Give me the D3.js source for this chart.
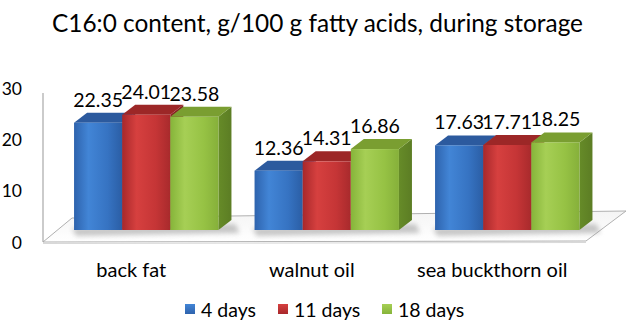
<!DOCTYPE html>
<html>
<head>
<meta charset="utf-8">
<script src="https://cdn.jsdelivr.net/npm/d3@7"></script>
<style>
  html, body { margin: 0; padding: 0; background: #fff; }
  svg { display: block; }
  text { font-family: Lato, "Open Sans", sans-serif; fill: #000; }
</style>
</head>
<body>
<svg id="chart" width="631" height="324"></svg>
<script>
// ---- data ----
const title = "C16:0 content, g/100 g fatty acids, during storage";
const categories = ["back fat", "walnut oil", "sea buckthorn oil"];
const seriesNames = ["4 days", "11 days", "18 days"];
const days4 = [22.35, 12.36, 17.63];
const days11 = [24.01, 14.31, 17.71];
const days18 = [23.58, 16.86, 18.25];
const yTicks = [0, 10, 20, 30];

const seriesValues = [days4, days11, days18];

// ---- styles ----
const palette = [
  { front: ["#2e63ad", "#4285d6", "#3673c2", "#2b5ea5"], top: "#2c5a9e", side: "#234b85" },
  { front: ["#a8282b", "#d6403f", "#c53536", "#a82a2c"], top: "#9c2727", side: "#7e1f20" },
  { front: ["#86b43a", "#a6cf55", "#96c244", "#86b03a"], top: "#7a9e31", side: "#5c7d24" }
];

const svg = d3.select("#chart");
const defs = svg.append("defs");

palette.forEach((p, i) => {
  const g = defs.append("linearGradient").attr("id", "front" + i)
    .attr("x1", "0").attr("x2", "1").attr("y1", "0").attr("y2", "0");
  [0, 0.3, 0.7, 1].forEach((o, k) => g.append("stop").attr("offset", o).attr("stop-color", p.front[k]));
  const s = defs.append("linearGradient").attr("id", "side" + i)
    .attr("x1", "0").attr("x2", "1").attr("y1", "0").attr("y2", "0");
  s.append("stop").attr("offset", 0).attr("stop-color", d3.color(p.side).brighter(0.3));
  s.append("stop").attr("offset", 1).attr("stop-color", p.side);
  const k = defs.append("linearGradient").attr("id", "key" + i)
    .attr("x1", "0").attr("x2", "0").attr("y1", "0").attr("y2", "1");
  k.append("stop").attr("offset", 0).attr("stop-color", p.front[1]);
  k.append("stop").attr("offset", 1).attr("stop-color", p.front[0]);
});
defs.append("filter").attr("id", "blur").attr("x", "-20%").attr("y", "-50%").attr("width", "140%").attr("height", "200%")
  .append("feGaussianBlur").attr("stdDeviation", 2.5);
const floorGrad = defs.append("linearGradient").attr("id", "floorG")
  .attr("x1", "0").attr("x2", "0").attr("y1", "0").attr("y2", "1");
floorGrad.append("stop").attr("offset", 0).attr("stop-color", "#f4f4f4");
floorGrad.append("stop").attr("offset", 1).attr("stop-color", "#ffffff");

// ---- scales ----
const baseY = 230;
const yBar = d3.scaleLinear().domain([0, 30]).range([baseY, baseY - 4.8 * 30]);
const yAxis = d3.scaleLinear().domain([0, 30]).range([242, 88]);
const x0 = d3.scaleBand().domain(categories).range([56, 597.5]).paddingInner(0.2).paddingOuter(0.1);
const x1 = d3.scaleBand().domain(seriesNames).range([0, x0.bandwidth()]).padding(0);
const depthX = 13, depthY = -10;

// ---- title ----
const t = svg.append("text").attr("x", 317.5).attr("y", 32).attr("text-anchor", "middle")
  .style("font-size", "21px").text(title);
const tw = t.node().getComputedTextLength();
t.style("font-size", (21 * 531 / tw).toFixed(2) + "px");

// ---- floor ----
svg.append("path")
  .attr("d", "M43,242 L586,241 L626,211 L72,218 Z")
  .attr("fill", "url(#floorG)").attr("stroke", "#b0b0b0").attr("stroke-width", 1);
svg.append("line").attr("x1", 43).attr("x2", 586).attr("y1", 243.5).attr("y2", 242.5)
  .attr("stroke", "#d8d8d8").attr("stroke-width", 1);

// ---- vertical axis line ----
svg.append("line").attr("x1", 43).attr("x2", 43).attr("y1", 93).attr("y2", 242)
  .attr("stroke", "#a8a8a8").attr("stroke-width", 1.2);

// ---- y tick labels ----
svg.append("g").selectAll("text").data(yTicks).join("text")
  .attr("x", 22).attr("y", d => yAxis(d)).attr("text-anchor", "end")
  .attr("dominant-baseline", "central").style("font-size", "17.5px").text(d => d);

// ---- shadows ----
svg.append("g").selectAll("path").data(categories).join("path")
  .attr("d", c => {
    const a = x0(c), b = x0(c) + x0.bandwidth();
    return `M${a - 2},${baseY - 2} L${b + depthX + 4},${baseY - 6} L${b + depthX + 8},${baseY + 3} L${a + 2},${baseY + 6} Z`;
  })
  .attr("fill", "#9a9a9a").attr("opacity", 0.55).attr("filter", "url(#blur)");

// ---- bars ----
const bars = [];
categories.forEach((c, ci) => {
  seriesNames.forEach((s, si) => {
    bars.push({ c, s, si, v: seriesValues[si][ci] });
  });
});

const gb = svg.append("g");
bars.forEach(d => {
  const xl = x0(d.c) + x1(d.s);
  const xr = xl + x1.bandwidth();
  const yt = yBar(d.v);
  const g = gb.append("g");
  // side
  g.append("path")
    .attr("d", `M${xr},${baseY} L${xr + depthX},${baseY + depthY} L${xr + depthX},${yt + depthY} L${xr},${yt} Z`)
    .attr("fill", `url(#side${d.si})`);
  // top
  g.append("path")
    .attr("d", `M${xl},${yt} L${xl + depthX},${yt + depthY} L${xr + depthX},${yt + depthY} L${xr},${yt} Z`)
    .attr("fill", palette[d.si].top);
  // front
  g.append("rect").attr("x", xl).attr("y", yt).attr("width", xr - xl).attr("height", baseY - yt)
    .attr("fill", `url(#front${d.si})`);
});

// ---- value labels ----
svg.append("g").selectAll("text").data(bars).join("text")
  .attr("x", d => x0(d.c) + x1(d.s) + x1.bandwidth() / 2)
  .attr("y", d => yBar(d.v) - 16)
  .attr("text-anchor", "middle").style("font-size", "19.5px")
  .text(d => d.v.toFixed(2));

// ---- category labels ----
svg.append("g").selectAll("text").data(categories).join("text")
  .attr("x", c => x0(c) + x0.bandwidth() / 2 - 15)
  .attr("y", 277).attr("text-anchor", "middle").style("font-size", "20px")
  .text(c => c);

// ---- legend ----
const legendX = [185, 278, 382];
const lg = svg.append("g").selectAll("g").data(seriesNames).join("g")
  .attr("transform", (d, i) => `translate(${legendX[i]},304)`);
lg.append("rect").attr("width", 10).attr("height", 10).attr("fill", (d, i) => `url(#key${i})`);
lg.append("text").attr("x", 16).attr("y", 12.5).style("font-size", "19.5px").text(d => d);
</script>
</body>
</html>
